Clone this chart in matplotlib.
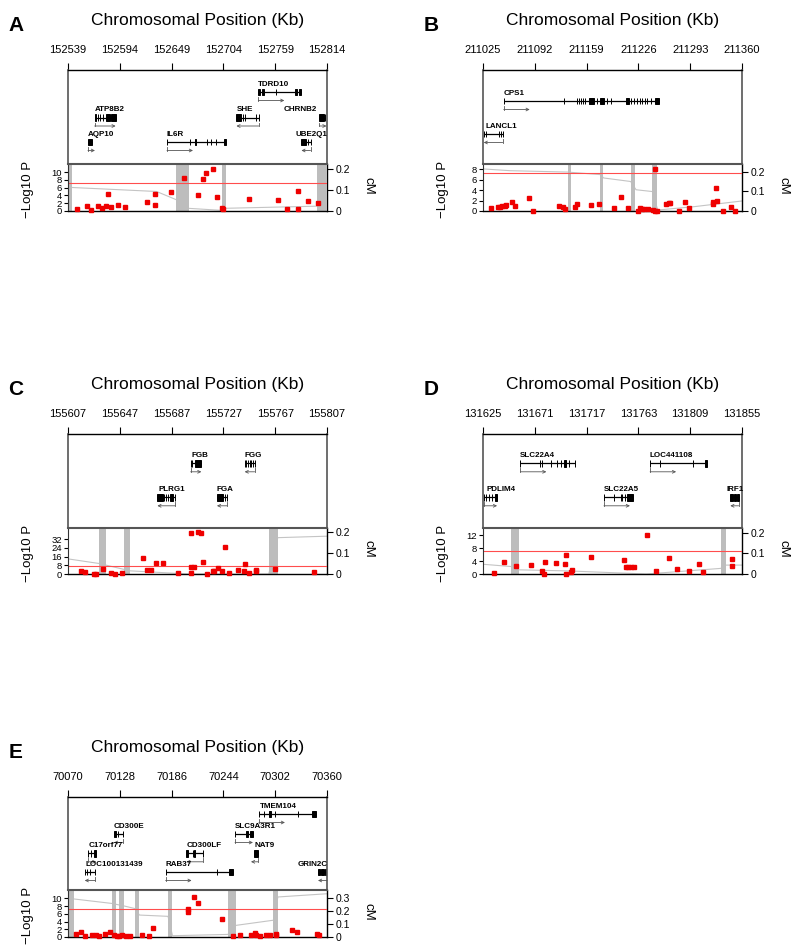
import numpy as np
import matplotlib
matplotlib.use("Agg")
import matplotlib.pyplot as plt
from matplotlib.patches import Rectangle

plt.rcParams['font.family'] = ['Liberation Sans', 'DejaVu Sans']

W, H = 800, 949

# ---------------- Panel A ----------------
A_ticks = [152539, 152594, 152649, 152704, 152759, 152814]
A_snp_kb = [152549, 152559, 152563, 152571, 152575, 152579, 152581, 152585, 152592, 152600,
            152623, 152631, 152631, 152648, 152662, 152677, 152682, 152685, 152693, 152697,
            152702, 152704, 152731, 152762, 152772, 152783, 152783, 152794, 152804]
A_snp_p = [0.6, 1.3, 0.2, 1.3, 0.7, 1.2, 4.4, 1.1, 1.5, 1.0,
           2.2, 4.5, 1.5, 4.9, 8.6, 4.2, 8.3, 9.9, 10.8, 3.6,
           0.9, 0.4, 3.0, 2.9, 0.6, 5.2, 0.6, 2.6, 2.1]
A_band_start = [152539, 152654, 152702, 152803]
A_band_end = [152543, 152667, 152707, 152814]
A_cm_kb = [152539, 152633, 152656, 152666, 152702, 152707, 152804, 152814]
A_cm = [0.113, 0.093, 0.05, 0.013, 0.003, 0.013, 0.023, 0.025]
A_p_ticks = [0, 2, 4, 6, 8, 10]
A_p_max = 12.1
A_cm_ticks = [0, 0.1, 0.2]
A_cm_max = 0.224
A_gene_name = ['TDRD10', 'ATP8B2', 'SHE', 'CHRNB2', 'AQP10', 'IL6R', 'UBE2Q1']
A_gene_strand = [1, 1, -1, 1, 1, 1, -1]
A_gene_row = [0, 1, 1, 1, 2, 2, 2]
A_gene_label = [152741, 152567, 152718, 152768, 152560, 152644, 152781]
A_gene_exons = [
    [(152741.1, 152742.5), (152745.4, 152746.8), (152759.9, 152759.9), (152780.0, 152782.0), (152784.2, 152786.8)],
    [(152567.3, 152569.0), (152571.0, 152571.0), (152572.6, 152572.6), (152576.2, 152576.2), (152579.7, 152583.3), (152585.0, 152589.6)],
    [(152717.8, 152723.0), (152724.9, 152724.9), (152727.4, 152727.4), (152739.0, 152739.0), (152741.5, 152741.5)],
    [(152806.0, 152810.5), (152812.0, 152812.0)],
    [(152560.2, 152564.8)],
    [(152644.1, 152644.1), (152669.0, 152669.0), (152673.5, 152675.3), (152686.6, 152686.6), (152690.5, 152690.5), (152695.8, 152695.8), (152704.3, 152707.2)],
    [(152786.8, 152791.5), (152793.5, 152793.5), (152796.5, 152796.5)],
]

# ---------------- Panel B ----------------
B_ticks = [211025, 211092, 211159, 211226, 211293, 211360]
B_snp_kb = [211035, 211044, 211047, 211050, 211053, 211055, 211063, 211066, 211085, 211090,
            211123, 211128, 211131, 211144, 211147, 211165, 211175, 211194, 211203, 211212,
            211225, 211228, 211231, 211233, 211238, 211245, 211248, 211247, 211250, 211262,
            211265, 211267, 211279, 211286, 211291, 211322, 211323, 211327, 211328, 211336,
            211346, 211351]
B_snp_p = [0.64, 0.83, 0.71, 0.96, 1.03, 1.09, 1.73, 0.96, 2.56, 0.0,
           0.90, 0.71, 0.38, 0.71, 1.28, 1.15, 1.41, 0.51, 2.69, 0.51,
           0.06, 0.58, 0.32, 0.38, 0.45, 0.13, 8.0, 0.06, 0.06, 1.35,
           1.47, 1.60, 0.06, 1.79, 0.51, 1.41, 1.73, 4.49, 1.92, 0.06,
           0.77, 0.06]
B_band_start = [211135, 211176, 211217, 211244]
B_band_end = [211139, 211180, 211221, 211250]
B_cm_kb = [211025, 211060, 211134, 211177, 211181, 211216, 211223, 211244, 211251, 211298, 211360]
B_cm = [0.214, 0.205, 0.198, 0.185, 0.168, 0.15, 0.108, 0.099, 0.005, 0.022, 0.051]
B_p_ticks = [0, 2, 4, 6, 8]
B_p_max = 9.0
B_cm_ticks = [0, 0.1, 0.2]
B_cm_max = 0.239
B_gene_name = ['CPS1', 'LANCL1']
B_gene_strand = [1, -1]
B_gene_row = [0, 1]
B_gene_label = [211052, 211028]
B_gene_exons = [
    [(211051.8, 211051.8), (211129.6, 211129.6), (211146.9, 211146.9), (211149.5, 211149.5), (211151.7, 211151.7),
     (211154.3, 211154.3), (211156.9, 211156.9), (211162.0, 211168.5), (211172.8, 211172.8), (211175.9, 211181.5),
     (211185.8, 211185.8), (211190.1, 211190.1), (211210.5, 211214.0), (211217.0, 211217.0), (211220.4, 211220.4),
     (211224.7, 211224.7), (211228.2, 211228.2), (211231.2, 211231.2), (211234.2, 211234.2), (211237.7, 211237.7),
     (211242.0, 211242.0), (211247.6, 211252.8)],
    [(211025.9, 211025.9), (211029.3, 211029.3), (211045.8, 211045.8), (211048.3, 211048.3), (211050.5, 211050.5)],
]

# ---------------- Panel C ----------------
C_ticks = [155607, 155647, 155687, 155727, 155767, 155807]
C_snp_kb = [155617, 155620, 155627, 155629, 155634, 155640, 155643, 155649, 155665, 155668,
            155671, 155675, 155680, 155692, 155702, 155702, 155702, 155704, 155707, 155710,
            155711, 155714, 155719, 155720, 155723, 155726, 155728, 155731, 155738, 155743,
            155744, 155747, 155752, 155752, 155767, 155797]
C_snp_p = [3.0, 1.5, 0.0, 0.3, 4.6, 0.9, 0.0, 1.2, 14.9, 4.0,
           3.4, 9.8, 9.8, 0.9, 37.5, 6.7, 0.9, 6.4, 38.7, 37.8,
           10.7, 0.3, 2.7, 2.4, 5.8, 2.7, 25.0, 0.6, 3.4, 3.0,
           9.1, 0.6, 2.7, 3.4, 4.3, 2.1]
C_band_start = [155631, 155650, 155762]
C_band_end = [155636, 155655, 155769]
C_cm_kb = [155607, 155631, 155655, 155700, 155762, 155769, 155807]
C_cm = [0.072, 0.05, 0.015, 0.0, 0.0, 0.173, 0.18]
C_p_ticks = [0, 8, 16, 24, 32]
C_p_max = 42.4
C_cm_ticks = [0, 0.1, 0.2]
C_cm_max = 0.219
C_gene_name = ['FGB', 'FGG', 'PLRG1', 'FGA']
C_gene_strand = [1, -1, -1, -1]
C_gene_row = [0, 0, 1, 1]
C_gene_label = [155702, 155743, 155676.5, 155722]
C_gene_exons = [
    [(155701.7, 155701.7), (155703.0, 155703.0), (155704.8, 155710.0)],
    [(155743.4, 155743.4), (155744.7, 155744.7), (155746.0, 155746.0), (155747.3, 155747.3),
     (155748.5, 155748.5), (155749.8, 155749.8), (155751.1, 155751.1)],
    [(155676.0, 155680.4), (155681.5, 155681.5), (155683.0, 155683.0), (155684.5, 155684.5), (155686.0, 155688.0), (155689.9, 155689.9)],
    [(155722.0, 155726.7), (155728.0, 155728.0), (155729.8, 155729.8)],
]

# ---------------- Panel D ----------------
D_ticks = [131625, 131671, 131717, 131763, 131809, 131855]
D_snp_kb = [131635, 131644, 131654, 131668, 131677, 131679, 131680, 131690, 131698, 131699,
            131699, 131703, 131704, 131721, 131750, 131752, 131754, 131756, 131759, 131771,
            131779, 131790, 131797, 131808, 131817, 131820, 131846, 131846]
D_snp_p = [0.2, 3.7, 2.6, 2.9, 1.0, 0.0, 3.6, 3.3, 3.2, 6.0,
           0.0, 0.7, 1.1, 5.3, 4.2, 2.3, 2.3, 2.3, 2.3, 12.2,
           1.0, 5.0, 1.4, 0.9, 3.0, 0.7, 4.8, 2.5]
D_band_start = [131650, 131836]
D_band_end = [131657, 131841]
D_cm_kb = [131625, 131650, 131657, 131700, 131770, 131836, 131841, 131855]
D_cm = [0.047, 0.036, 0.02, 0.015, 0.0, 0.027, 0.043, 0.043]
D_p_ticks = [0, 4, 8, 12]
D_p_max = 14.3
D_cm_ticks = [0, 0.1, 0.2]
D_cm_max = 0.222
D_gene_name = ['SLC22A4', 'LOC441108', 'PDLIM4', 'SLC22A5', 'IRF1']
D_gene_strand = [1, 1, 1, 1, -1]
D_gene_row = [0, 0, 1, 1, 1]
D_gene_label = [131658, 131773, 131628, 131732, 131841]
D_gene_exons = [
    [(131658.2, 131658.2), (131675.5, 131675.5), (131677.0, 131677.0), (131685.5, 131685.5), (131690.9, 131690.9),
     (131694.5, 131694.5), (131696.8, 131698.9), (131701.3, 131701.3), (131706.3, 131706.3)],
    [(131773.4, 131773.4), (131782.3, 131782.3), (131811.4, 131811.4), (131822.0, 131823.9)],
    [(131625.6, 131625.6), (131628.0, 131628.0), (131630.3, 131630.3), (131633.0, 131633.0), (131635.4, 131637.5)],
    [(131732.4, 131732.4), (131741.3, 131741.3), (131747.3, 131747.3), (131748.8, 131748.8), (131750.8, 131750.8), (131753.2, 131758.3)],
    [(131844.6, 131846.7), (131847.6, 131849.4), (131850.3, 131852.0)],
]

# ---------------- Panel E ----------------
E_ticks = [70070, 70128, 70186, 70244, 70302, 70360]
E_snp_kb = [70079, 70084, 70089, 70097, 70101, 70105, 70111, 70117, 70122, 70125,
            70127, 70131, 70135, 70139, 70153, 70161, 70165, 70204, 70204, 70211,
            70215, 70242, 70255, 70263, 70275, 70279, 70281, 70285, 70292, 70296,
            70303, 70303, 70321, 70326, 70349, 70351]
E_snp_p = [0.9, 1.2, 0.2, 0.4, 0.4, 0.3, 0.9, 1.2, 0.4, 0.3,
           0.3, 0.6, 0.2, 0.2, 0.6, 0.3, 2.3, 7.2, 6.6, 10.3,
           8.8, 4.7, 0.3, 0.4, 0.5, 1.0, 0.6, 0.3, 0.5, 0.5,
           0.8, 0.5, 1.8, 1.2, 0.9, 0.5]
E_band_start = [70070, 70119, 70127, 70145, 70182, 70249, 70300]
E_band_end = [70077, 70124, 70133, 70150, 70187, 70258, 70305]
E_cm_kb = [70070, 70119, 70133, 70145, 70150, 70182, 70187, 70249, 70258, 70300, 70305, 70360]
E_cm = [0.30, 0.26, 0.24, 0.22, 0.17, 0.16, 0.01, 0.02, 0.09, 0.13, 0.31, 0.335]
E_p_ticks = [0, 2, 4, 6, 8, 10]
E_p_max = 12.2
E_cm_ticks = [0, 0.1, 0.2, 0.3]
E_cm_max = 0.364
E_gene_name = ['TMEM104', 'CD300E', 'SLC9A3R1', 'C17orf77', 'CD300LF', 'NAT9', 'LOC100131439', 'RAB37', 'GRIN2C']
E_gene_strand = [1, -1, 1, 1, -1, -1, -1, 1, -1]
E_gene_row = [0, 1, 1, 2, 2, 2, 3, 3, 3]
E_gene_label = [70284.5, 70121.5, 70257, 70093, 70202.5, 70278.6, 70089.8, 70179.3, 70326.8]
E_gene_exons = [
    [(70283.8, 70283.8), (70289.1, 70289.1), (70295.0, 70297.7), (70301.4, 70301.4), (70327.5, 70327.5), (70343.6, 70347.3)],
    [(70121.5, 70123.4), (70126.0, 70126.0), (70131.6, 70131.6)],
    [(70257.0, 70257.0), (70268.9, 70271.5), (70274.1, 70277.1)],
    [(70092.8, 70092.8), (70095.4, 70095.4), (70099.5, 70101.7)],
    [(70202.5, 70204.7), (70210.0, 70210.0), (70211.1, 70212.6), (70221.1, 70221.1)],
    [(70278.6, 70282.7)],
    [(70088.7, 70088.7), (70091.3, 70091.3), (70094.3, 70094.3), (70100.6, 70100.6)],
    [(70179.3, 70179.3), (70237.2, 70237.2), (70250.3, 70254.7)],
    [(70349.9, 70352.5), (70353.6, 70356.2), (70357.4, 70360.0)],
]

# layout in pixels: letter, left, gene top, split, bottom, row offsets from gene top
panels = [
    ('A', 68, 70, 164, 211, [22, 47.5, 72], A_ticks, A_snp_kb, A_snp_p, A_band_start, A_band_end, A_cm_kb, A_cm,
     A_p_ticks, A_p_max, A_cm_ticks, A_cm_max, A_gene_name, A_gene_strand, A_gene_row, A_gene_label, A_gene_exons),
    ('B', 483, 70, 164, 211, [31, 64], B_ticks, B_snp_kb, B_snp_p, B_band_start, B_band_end, B_cm_kb, B_cm,
     B_p_ticks, B_p_max, B_cm_ticks, B_cm_max, B_gene_name, B_gene_strand, B_gene_row, B_gene_label, B_gene_exons),
    ('C', 68, 434, 528, 574, [29.3, 63.3], C_ticks, C_snp_kb, C_snp_p, C_band_start, C_band_end, C_cm_kb, C_cm,
     C_p_ticks, C_p_max, C_cm_ticks, C_cm_max, C_gene_name, C_gene_strand, C_gene_row, C_gene_label, C_gene_exons),
    ('D', 483, 434, 528, 574, [29.3, 63.3], D_ticks, D_snp_kb, D_snp_p, D_band_start, D_band_end, D_cm_kb, D_cm,
     D_p_ticks, D_p_max, D_cm_ticks, D_cm_max, D_gene_name, D_gene_strand, D_gene_row, D_gene_label, D_gene_exons),
    ('E', 68, 797, 890, 937, [17, 37, 56.3, 75], E_ticks, E_snp_kb, E_snp_p, E_band_start, E_band_end, E_cm_kb, E_cm,
     E_p_ticks, E_p_max, E_cm_ticks, E_cm_max, E_gene_name, E_gene_strand, E_gene_row, E_gene_label, E_gene_exons),
]

PW = 259  # panel width in px

fig = plt.figure(figsize=(W / 100, H / 100), dpi=100)


def fx(px):
    return px / W


def fy(py):
    return 1 - py / H


def draw_gene(ax, name, exons, strand, y, lab_x, kbpx):
    s = exons[0][0]
    e = exons[-1][1]
    ax.plot([s, e], [y, y], color='black', lw=0.9, solid_capstyle='butt')
    for a, b in exons:
        ax.add_patch(Rectangle((a, y - 3.3), b - a, 6.6, fc='black', ec='black', lw=0.7))
    ax.text(lab_x, y - 4.2, name, fontsize=5.8, fontweight='bold', va='bottom', ha='left')
    L = np.clip((e - s) / kbpx, 7, 26) * kbpx
    x0 = s if strand > 0 else e
    x1 = x0 + strand * L
    ya = y + 8.5
    ax.plot([x0, x0], [y + 5, ya], color='#555555', lw=0.6)
    ax.annotate('', xy=(x1, ya), xytext=(x0, ya),
                arrowprops=dict(arrowstyle='->', color='#555555', lw=0.6,
                                shrinkA=0, shrinkB=0, mutation_scale=5))


for (letter, left, top, split, bottom, rows, ticks, snp_kb, snp_p, bs, be, cm_kb, cm,
     p_ticks, p_max, cm_ticks, cm_max, gnames, gstrand, grow, glabel, gexons) in panels:
    xmin, xmax = ticks[0], ticks[-1]
    kbpx = (xmax - xmin) / PW

    # gene track
    gh = split - top
    gax = fig.add_axes([fx(left), fy(split), PW / W, gh / H])
    gax.set_xlim(xmin, xmax)
    gax.set_ylim(gh, 0)
    gax.set_xticks(ticks)
    gax.set_xticklabels([str(t) for t in ticks])
    gax.xaxis.set_ticks_position('top')
    gax.tick_params(axis='x', direction='out', length=5, width=0.8, labelsize=8, pad=6)
    gax.set_yticks([])
    gax.spines['bottom'].set_visible(False)
    gax.spines['top'].set_linewidth(1.0)
    for sp in ['left', 'right']:
        gax.spines[sp].set_color('#555555')
        gax.spines[sp].set_linewidth(1.2)
    for i in range(len(gnames)):
        draw_gene(gax, gnames[i], gexons[i], gstrand[i], rows[grow[i]], glabel[i], kbpx)

    # association track
    ah = bottom - split
    ax = fig.add_axes([fx(left), fy(bottom), PW / W, ah / H])
    ax2 = ax.twinx()
    ax.set_zorder(ax2.get_zorder() + 1)
    ax.patch.set_visible(False)

    ax2.plot(cm_kb, cm, color='#c4c4c4', lw=0.8)
    ax2.set_ylim(0, cm_max)
    ax2.set_yticks(cm_ticks)
    ax2.set_yticklabels(['0' if v == 0 else '%g' % v for v in cm_ticks])
    ax2.tick_params(axis='y', direction='out', length=4.5, width=0.8, labelsize=7.5, pad=2)
    for sp in ['top', 'left', 'bottom']:
        ax2.spines[sp].set_visible(False)
    ax2.spines['right'].set_linewidth(1.0)

    for a, b in zip(bs, be):
        ax.axvspan(a, b, color='#bdbdbd', lw=0, zorder=1)
    ax.axhline(7.3, color='#ff4d4d', lw=0.8, zorder=2)
    ax.plot(snp_kb, snp_p, 's', color='#ee0000', markersize=3, mec='#ee0000', zorder=3, clip_on=False)
    ax.set_xlim(xmin, xmax)
    ax.set_ylim(0, p_max)
    ax.set_xticks([])
    ax.set_yticks(p_ticks)
    ax.tick_params(axis='y', direction='out', length=3, width=0.8, labelsize=6.8, pad=1.5)
    ax.spines['right'].set_visible(False)
    ax.spines['top'].set_color('#555555')
    ax.spines['top'].set_linewidth(1.5)
    ax.spines['left'].set_color('#333333')
    ax.spines['bottom'].set_linewidth(1.0)

    # labels
    cx = left + PW / 2
    fig.text(fx(cx), fy(top - 49.5), 'Chromosomal Position (Kb)', fontsize=12.5, ha='center', va='center')
    fig.text(fx(left - 52), fy(top - 44.5), letter, fontsize=15, fontweight='bold', ha='center', va='center')
    fig.text(fx(left - 40), fy((split + bottom) / 2 + 2), '\u2212Log10 P', fontsize=9.5, rotation=90,
             ha='center', va='center')
    fig.text(fx(left + PW + 41.5), fy((split + bottom) / 2 - 2), 'cM', fontsize=9.5, rotation=270,
             ha='center', va='center')

fig.savefig('out.png', dpi=100)
